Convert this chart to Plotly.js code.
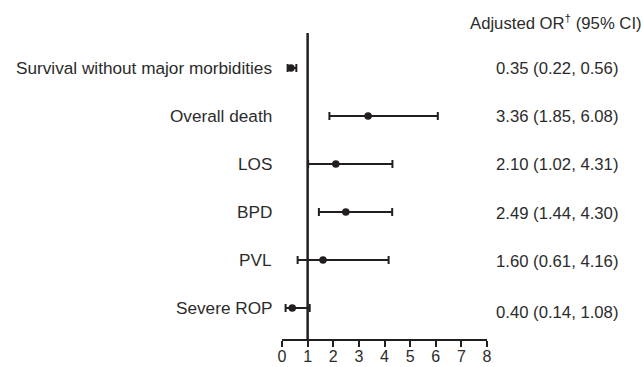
<!DOCTYPE html>
<html>
<head>
<meta charset="utf-8">
<script src="https://cdn.plot.ly/plotly-3.0.1.min.js"></script>
<style>html,body{margin:0;padding:0;background:#fff;}#chart{width:643px;height:367px;}</style>
</head>
<body>
<div id="chart"></div>
<script>
// Data (top to bottom)
const outcomes = ["Survival without major morbidities", "Overall death", "LOS", "BPD", "PVL", "Severe ROP"];
const orValues = [0.35, 3.36, 2.10, 2.49, 1.60, 0.40];
const ciLower = [0.22, 1.85, 1.02, 1.44, 0.61, 0.14];
const ciUpper = [0.56, 6.08, 4.31, 4.30, 4.16, 1.08];
const xTicks = [0, 1, 2, 3, 4, 5, 6, 7, 8];
const headerText = "Adjusted OR<sup>†</sup> (95% CI)";

const n = outcomes.length;
const ypos = outcomes.map((_, i) => n - 1 - i);
const fmt = v => v.toFixed(2);
const labelsRight = orValues.map((v, i) => fmt(v) + " (" + fmt(ciLower[i]) + ", " + fmt(ciUpper[i]) + ")");

const ink = "#231f20";
const textCol = "#2b2b2b";
const fontFam = "Liberation Sans, Arial, Helvetica, sans-serif";
const fsLab = 17.2;
const fs = 16.7;

const trace = {
  type: "scatter",
  mode: "markers",
  x: orValues,
  y: ypos,
  marker: {color: ink, size: 7.5, symbol: "circle"},
  error_x: {
    type: "data",
    symmetric: false,
    array: orValues.map((v, i) => ciUpper[i] - v),
    arrayminus: orValues.map((v, i) => v - ciLower[i]),
    color: ink,
    thickness: 2,
    width: 4
  },
  hoverinfo: "skip",
  cliponaxis: false
};

const annotations = [];
outcomes.forEach((name, i) => {
  annotations.push({
    xref: "paper", yref: "y", x: 0, y: ypos[i], xanchor: "right", yanchor: "middle",
    xshift: -8, text: name, showarrow: false,
    font: {family: fontFam, size: fsLab, color: textCol}
  });
  annotations.push({
    xref: "paper", yref: "y", x: 1, y: ypos[i], xanchor: "left", yanchor: "middle",
    xshift: 7, yshift: i === n - 1 ? -4 : (i >= 3 ? -1 : 0), text: labelsRight[i], showarrow: false,
    font: {family: fontFam, size: fs, color: textCol}
  });
});
annotations.push({
  xref: "paper", yref: "paper", x: 1, y: 1, xanchor: "left", yanchor: "middle",
  xshift: -19, yshift: 11, text: headerText, showarrow: false,
  font: {family: fontFam, size: fs, color: textCol}
});

const layout = {
  width: 643, height: 367,
  margin: {l: 282, r: 156, t: 33, b: 28, pad: 0},
  paper_bgcolor: "#ffffff", plot_bgcolor: "#ffffff",
  showlegend: false,
  xaxis: {
    range: [0, 8], tickvals: xTicks, ticktext: xTicks.map(String),
    ticks: "outside", ticklen: 6, tickwidth: 2, tickcolor: ink,
    showline: true, linewidth: 2, linecolor: ink,
    showgrid: false, zeroline: false,
    ticklabelstandoff: -4,
    tickfont: {family: fontFam, size: 16, color: textCol},
    fixedrange: true
  },
  yaxis: {
    range: [-0.646, 5.73], visible: false, showgrid: false, zeroline: false, fixedrange: true
  },
  shapes: [{
    type: "line", xref: "x", yref: "paper", x0: 1, x1: 1, y0: 0, y1: 1,
    line: {color: ink, width: 2.5}, layer: "below"
  }],
  annotations: annotations
};

Plotly.newPlot("chart", [trace], layout, {displayModeBar: false, staticPlot: true});
</script>
</body>
</html>
